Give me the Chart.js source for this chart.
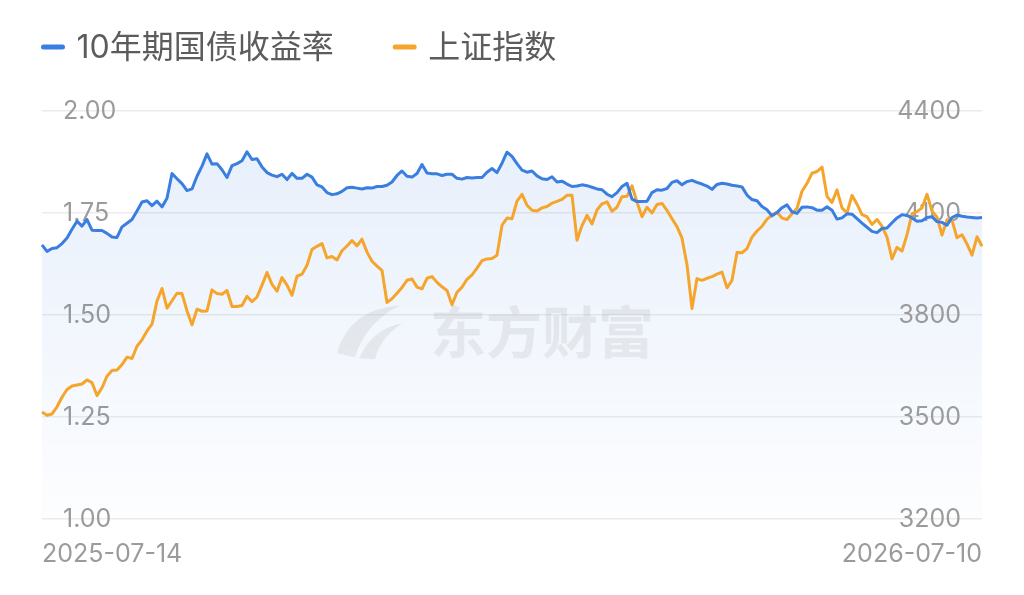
<!DOCTYPE html>
<html>
<head>
<meta charset="utf-8">
<script src="https://cdn.jsdelivr.net/npm/chart.js@4.4.1/dist/chart.umd.min.js"></script>
<style>
  html, body { margin: 0; padding: 0; background: #ffffff; }
  #c { display: block; }
</style>
</head>
<body>
<canvas id="c" width="1024" height="595"></canvas>
<script>
// ---------- data ----------
const seriesNames = ['10年期国债收益率', '上证指数'];
const seriesColors = ['#3a7ee0', '#f5a52c'];
const startDate = '2025-07-14';
const endDate = '2026-07-10';
const xTickLabels = [startDate, endDate];
const leftTicks = [1.00, 1.25, 1.50, 1.75, 2.00];
const rightTicks = [3200, 3500, 3800, 4100, 4400];

const yieldValues = [
  1.672,1.656,1.663,1.665,1.675,1.689,1.710,1.730,1.718,1.734,
  1.708,1.707,1.707,1.700,1.691,1.690,1.716,1.725,1.734,1.755,
  1.777,1.780,1.768,1.779,1.765,1.786,1.847,1.834,1.822,1.805,
  1.809,1.840,1.865,1.895,1.870,1.871,1.856,1.837,1.866,1.871,
  1.878,1.900,1.881,1.883,1.863,1.849,1.843,1.839,1.845,1.832,
  1.847,1.835,1.835,1.845,1.838,1.819,1.814,1.800,1.795,1.797,
  1.803,1.812,1.813,1.811,1.809,1.812,1.811,1.815,1.815,1.818,
  1.826,1.842,1.853,1.840,1.838,1.847,1.869,1.848,1.846,1.846,
  1.842,1.845,1.845,1.835,1.833,1.837,1.836,1.837,1.837,1.850,
  1.859,1.849,1.872,1.899,1.889,1.871,1.855,1.850,1.853,1.841,
  1.834,1.832,1.839,1.826,1.828,1.821,1.815,1.816,1.819,1.817,
  1.813,1.809,1.807,1.796,1.790,1.800,1.815,1.823,1.784,1.778,
  1.778,1.779,1.800,1.807,1.806,1.810,1.825,1.829,1.819,1.827,
  1.830,1.825,1.821,1.816,1.808,1.820,1.823,1.821,1.818,1.816,
  1.814,1.794,1.783,1.780,1.766,1.758,1.743,1.751,1.763,1.770,
  1.753,1.749,1.764,1.765,1.763,1.757,1.757,1.765,1.757,1.735,
  1.738,1.748,1.747,1.736,1.725,1.715,1.705,1.702,1.712,1.713,
  1.726,1.738,1.746,1.744,1.738,1.730,1.731,1.739,1.741,1.729,
  1.727,1.720,1.739,1.745,1.742,1.740,1.739,1.738,1.739
];

const indexValues = [
  3515,3505,3509,3530,3558,3581,3591,3594,3597,3609,
  3601,3563,3586,3620,3637,3638,3654,3676,3672,3708,
  3727,3753,3773,3841,3878,3820,3842,3864,3863,3812,
  3771,3817,3811,3812,3874,3863,3861,3872,3825,3825,
  3828,3855,3839,3853,3888,3925,3890,3870,3910,3888,
  3858,3914,3920,3946,3993,4002,4010,3968,3972,3962,
  3989,4003,4019,4003,4023,3985,3958,3944,3931,3837,
  3848,3864,3881,3902,3906,3882,3877,3908,3913,3896,
  3883,3872,3830,3867,3882,3905,3918,3938,3960,3965,
  3966,3976,4064,4085,4083,4135,4155,4123,4108,4106,
  4115,4119,4129,4134,4140,4152,4152,4020,4063,4093,
  4068,4109,4127,4133,4105,4117,4148,4149,4180,4132,
  4089,4117,4100,4125,4128,4108,4083,4060,4026,3948,
  3819,3907,3902,3908,3913,3920,3926,3880,3902,3984,
  3983,3995,4029,4047,4061,4082,4094,4102,4085,4081,
  4098,4114,4164,4187,4217,4222,4235,4149,4131,4168,
  4115,4100,4152,4126,4095,4089,4066,4081,4061,4029,
  3965,3999,3988,4036,4098,4104,4115,4155,4106,4088,
  4035,4080,4079,4027,4036,4009,3976,4030,4002
];

// category labels: dates spread from start to end, one per value
function buildCategories(start, end, n) {
  const s = Date.parse(start + 'T00:00:00Z');
  const e = Date.parse(end + 'T00:00:00Z');
  const days = Math.round((e - s) / 86400000);
  const out = [];
  for (let i = 0; i < n; i++) {
    const d = new Date(s + Math.round(i * days / (n - 1)) * 86400000);
    out.push(d.toISOString().slice(0, 10));
  }
  return out;
}
const categories = buildCategories(startDate, endDate, yieldValues.length);

// ---------- styling ----------
const TICK_FONT = { family: 'Inter, Roboto, sans-serif', size: 25 };
const TICK_COLOR = '#9b9b9b';
const TICK_PAD = 21;

const legendPlugin = {
  id: 'topLegend',
  afterDraw(chart) {
    const c = chart.ctx;
    c.save();
    c.font = '32px Inter, "Noto Sans CJK SC", sans-serif';
    c.textBaseline = 'middle';
    c.textAlign = 'left';
    let x = 41;
    const y = 47;
    seriesNames.forEach((name, i) => {
      c.strokeStyle = seriesColors[i];
      c.lineWidth = 5;
      c.lineCap = 'round';
      c.beginPath();
      c.moveTo(x + 2.5, y);
      c.lineTo(x + 21.5, y);
      c.stroke();
      c.fillStyle = '#5c5c5c';
      c.fillText(name, x + 35.5, y + 1);
      x += 35.5 + c.measureText(name).width + 59;
    });
    c.restore();
  }
};

// right-hand axis labels drawn inside the plot, right-aligned, at the yR scale positions
const rightLabelPlugin = {
  id: 'rightLabels',
  beforeDatasetsDraw(chart) {
    const c = chart.ctx;
    const s = chart.scales.yR;
    const a = chart.chartArea;
    c.save();
    c.font = TICK_FONT.size + 'px ' + TICK_FONT.family;
    c.fillStyle = TICK_COLOR;
    c.textAlign = 'right';
    c.textBaseline = 'middle';
    rightTicks.forEach(v => c.fillText(String(v), a.right - TICK_PAD, s.getPixelForValue(v)));
    c.restore();
  }
};

const watermarkPlugin = {
  id: 'watermark',
  beforeDatasetsDraw(chart) {
    const c = chart.ctx;
    const a = chart.chartArea;
    const cx = (a.left + a.right) / 2;
    const cy = a.top + (a.bottom - a.top) * 0.54;
    c.save();
    c.fillStyle = 'rgba(140,140,140,0.15)';
    c.font = 'bold 56px "Noto Sans CJK SC", sans-serif';
    c.textBaseline = 'middle';
    c.textAlign = 'left';
    c.fillText('东方财富', cx - 82, cy);
    // simple swoosh logo
    const lx = cx - 145, ly = cy;
    c.beginPath();
    c.moveTo(lx - 30, ly + 22);
    c.quadraticCurveTo(lx - 18, ly - 22, lx + 33, ly - 26);
    c.quadraticCurveTo(lx - 2, ly - 8, lx - 12, ly + 26);
    c.closePath();
    c.fill();
    c.beginPath();
    c.moveTo(lx - 8, ly + 27);
    c.quadraticCurveTo(lx + 5, ly - 2, lx + 35, ly - 8);
    c.quadraticCurveTo(lx + 12, ly + 8, lx + 8, ly + 28);
    c.closePath();
    c.fill();
    c.restore();
  }
};

function fillGradient(context) {
  const chart = context.chart;
  const area = chart.chartArea;
  if (!area) return 'rgba(58,126,224,0.06)';
  const g = chart.ctx.createLinearGradient(0, area.top, 0, area.bottom);
  g.addColorStop(0, 'rgba(58,126,224,0.13)');
  g.addColorStop(1, 'rgba(58,126,224,0.01)');
  return g;
}

new Chart(document.getElementById('c'), {
  type: 'line',
  data: {
    labels: categories,
    datasets: [
      {
        label: seriesNames[0],
        data: yieldValues,
        yAxisID: 'yL',
        borderColor: seriesColors[0],
        borderWidth: 3,
        pointRadius: 0,
        tension: 0,
        borderJoinStyle: 'round',
        fill: 'start',
        backgroundColor: fillGradient
      },
      {
        label: seriesNames[1],
        data: indexValues,
        yAxisID: 'yR',
        borderColor: seriesColors[1],
        borderWidth: 3,
        pointRadius: 0,
        tension: 0,
        borderJoinStyle: 'round',
        fill: false
      }
    ]
  },
  options: {
    responsive: false,
    animation: false,
    events: [],
    layout: { padding: { top: 111, bottom: 6, left: 0, right: 42 } },
    plugins: {
      legend: { display: false },
      tooltip: { enabled: false },
      filler: { drawTime: 'beforeDatasetsDraw' }
    },
    scales: {
      x: {
        type: 'category',
        grid: { display: false, drawTicks: false },
        border: { display: false },
        ticks: {
          autoSkip: false,
          maxRotation: 0,
          minRotation: 0,
          align: 'inner',
          padding: 20,
          color: TICK_COLOR,
          font: TICK_FONT,
          callback: function (value, index, ticks) {
            if (index === 0) return xTickLabels[0];
            if (index === ticks.length - 1) return xTickLabels[1];
            return null;
          }
        }
      },
      yL: {
        position: 'left',
        min: leftTicks[0],
        max: leftTicks[leftTicks.length - 1],
        grid: { color: '#ececec', lineWidth: 1.5, drawTicks: false },
        border: { display: false },
        ticks: {
          mirror: true,
          padding: TICK_PAD,
          stepSize: leftTicks[1] - leftTicks[0],
          color: TICK_COLOR,
          font: TICK_FONT,
          callback: (v) => Number(v).toFixed(2)
        }
      },
      yR: {
        position: 'right',
        min: rightTicks[0],
        max: rightTicks[rightTicks.length - 1],
        grid: { display: false, drawTicks: false },
        border: { display: false },
        ticks: { display: false }
      }
    }
  },
  plugins: [watermarkPlugin, rightLabelPlugin, legendPlugin]
});
</script>
</body>
</html>
